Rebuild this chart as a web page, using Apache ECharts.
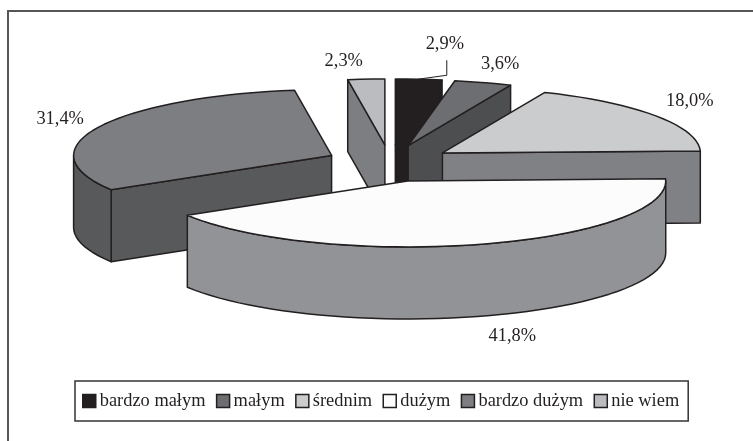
<!DOCTYPE html>
<html>
<head>
<meta charset="utf-8">
<title>Wykres</title>
<style>
  html, body { margin: 0; padding: 0; background: #fff; }
  #chart { width: 753px; height: 441px; }
</style>
<script src="https://cdn.jsdelivr.net/npm/echarts@6/dist/echarts.min.js"></script>
</head>
<body>
<div id="chart"></div>
<script>
// dane (%)
var categories = ['bardzo małym', 'małym', 'średnim', 'dużym', 'bardzo dużym', 'nie wiem'];
var shares = [2.9, 3.6, 18.0, 41.8, 31.4, 2.3];

// kolory: wierzch i bok wycinka
var topColors = ['#231f20', '#6d6e71', '#cbccce', '#fcfcfc', '#7d7e81', '#bbbcbf'];
var sideColors = ['#231f20', '#4d4e50', '#808184', '#929396', '#58595b', '#7d7e81'];
// kolejnosc rysowania, z tylu do przodu
var drawOrder = [2, 3, 4, 6, 5, 1];
// przesuniecie etykiety wzgledem srodka luku
var labelShift = [[26, -35], [17, -18], [34, -15], [31, 92], [-38, -8], [-22.5, -18]];

// geometria "3D" wycinkow
var cx = 389.5, cy = 163.3;   // srodek kola
var rx = 258, ry = 66;        // elipsa
var depth = 72;               // wysokosc boku
var explodeX = 64, explodeY = 18.4;
var lineColor = '#231f20';

function total() {
  return shares.reduce(function(a, b) { return a + b; }, 0);
}

function startAngle(idx) {
  var sum = 0;
  for (var i = 0; i < idx; i++) sum += shares[i];
  return sum / total() * Math.PI * 2;
}

function rimPoint(apex, a) {
  return [apex[0] + rx * Math.sin(a), apex[1] - ry * Math.cos(a)];
}

function arcPoints(apex, a0, a1) {
  var n = Math.max(2, Math.ceil((a1 - a0) / (Math.PI / 60)));
  var pts = [];
  for (var i = 0; i <= n; i++) pts.push(rimPoint(apex, a0 + (a1 - a0) * i / n));
  return pts;
}

function lowered(pts) {
  return pts.map(function(p) { return [p[0], p[1] + depth]; }).reverse();
}

function face(pts, fill) {
  return {
    type: 'polygon',
    shape: { points: pts },
    style: { fill: fill, stroke: lineColor, lineWidth: 1.5, lineJoin: 'round' }
  };
}

function renderSlice(params, api) {
  var idx = params.seriesIndex;
  var a0 = startAngle(idx);
  var a1 = a0 + api.value(0) / total() * Math.PI * 2;
  var mid = (a0 + a1) / 2;
  var apex = [cx + explodeX * Math.sin(mid), cy - explodeY * Math.cos(mid)];
  var side = sideColors[idx];
  var children = [];

  // boki proste, widoczne tylko od frontu
  if (Math.sin(a0) < -1e-6) {
    var s = [apex, rimPoint(apex, a0)];
    children.push(face(s.concat(lowered(s)), side));
  }
  if (Math.sin(a1) > 1e-6) {
    var e = [apex, rimPoint(apex, a1)];
    children.push(face(e.concat(lowered(e)), side));
  }
  // bok zaokraglony (przod elipsy)
  var f0 = Math.max(a0, Math.PI / 2), f1 = Math.min(a1, Math.PI * 1.5);
  if (f1 > f0) {
    var arc = arcPoints(apex, f0, f1);
    children.push(face(arc.concat(lowered(arc)), side));
  }
  // wierzch
  children.push(face([apex].concat(arcPoints(apex, a0, a1)), topColors[idx]));

  // etykieta
  var rim = rimPoint(apex, mid);
  children.push({
    type: 'text',
    x: rim[0] + labelShift[idx][0],
    y: rim[1] + labelShift[idx][1],
    style: {
      text: api.value(0).toFixed(1).replace('.', ',') + '%',
      fill: lineColor,
      font: '18.4px "Liberation Serif"',
      align: 'center',
      verticalAlign: 'middle'
    }
  });
  // linia odniesienia tylko przy pierwszym wycinku
  if (idx === 0) {
    children.push({
      type: 'polyline',
      shape: { points: [[rim[0] - 1, rim[1]], [rim[0] + 28, rim[1] - 4], [rim[0] + 28, rim[1] - 19]] },
      style: { fill: null, stroke: lineColor, lineWidth: 1 }
    });
  }
  return { type: 'group', children: children };
}

var series = categories.map(function(name, i) {
  return {
    name: name,
    type: 'custom',
    coordinateSystem: 'none',
    z: drawOrder[i] + 2,
    silent: true,
    itemStyle: { color: topColors[i] },
    renderItem: renderSlice,
    data: [[shares[i]]]
  };
});

var chart = echarts.init(document.getElementById('chart'));
chart.setOption({
  animation: false,
  backgroundColor: '#fff',
  legend: {
    left: 75,
    top: 381,
    orient: 'horizontal',
    data: categories,
    icon: 'rect',
    itemWidth: 13,
    itemHeight: 13,
    itemGap: 10.4,
    padding: [11, 9, 11, 7],
    borderColor: '#333',
    borderWidth: 1.5,
    selectedMode: false,
    itemStyle: { borderColor: lineColor, borderWidth: 1.5 },
    textStyle: {
      color: lineColor,
      fontFamily: 'Liberation Serif',
      fontSize: 18.4,
      padding: [0, 0, 0, -1]
    }
  },
  graphic: [{
    // ramka: tylko gora i lewa strona
    type: 'polyline',
    silent: true,
    shape: { points: [[8, 441], [8, 11], [753, 11]] },
    style: { fill: null, stroke: '#555658', lineWidth: 2 }
  }],
  series: series
});
</script>
</body>
</html>
